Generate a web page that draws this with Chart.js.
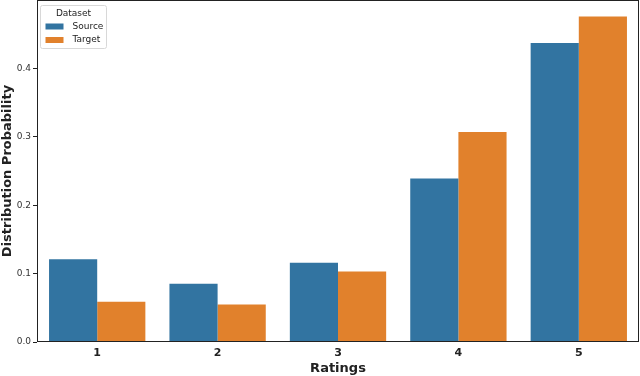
<!DOCTYPE html>
<html>
<head>
<meta charset="utf-8">
<script src="https://cdn.jsdelivr.net/npm/chart.js@4/dist/chart.umd.min.js"></script>
<style>
  html, body { margin: 0; padding: 0; background: #fff; }
  #wrap { width: 640px; height: 376px; }
</style>
</head>
<body>
<div id="wrap"><canvas id="c" width="640" height="376"></canvas></div>
<script>
// ─── Data ────────────────────────────────────────────────────────────
const ratings = ['1', '2', '3', '4', '5'];
const sourceProb = [0.121, 0.085, 0.116, 0.239, 0.437];
const targetProb = [0.059, 0.055, 0.103, 0.307, 0.476];
const yTicks = [0.0, 0.1, 0.2, 0.3, 0.4];

const BLUE = '#3274a1';
const ORANGE = '#e1812c';
const FONT = "'DejaVu Sans', sans-serif";

// frame + legend box drawn like matplotlib
const framePlugin = {
  id: 'frame',
  afterDraw(chart) {
    const { ctx, chartArea: a } = chart;
    ctx.save();
    ctx.strokeStyle = '#222';
    ctx.lineWidth = 1;
    ctx.strokeRect(a.left + 0.5, a.top + 0.5, a.right - a.left - 1, a.bottom - a.top - 1);

    // legend
    const x = a.left + 3.5, y = a.top + 5.5, w = 66, h = 43;
    ctx.fillStyle = 'rgba(255,255,255,0.8)';
    ctx.strokeStyle = '#d8d8d8';
    ctx.beginPath();
    ctx.roundRect(x, y, w, h, 2);
    ctx.fill(); ctx.stroke();
    ctx.fillStyle = '#222';
    ctx.font = '9px ' + FONT;
    ctx.textBaseline = 'middle';
    ctx.textAlign = 'center';
    ctx.fillText('Dataset', x + w / 2, y + 8);
    ctx.textAlign = 'left';
    chart.data.datasets.forEach((ds, i) => {
      const ry = y + 21 + i * 13.5;
      ctx.fillStyle = ds.backgroundColor;
      ctx.fillRect(x + 5, ry - 3, 18, 6);
      ctx.fillStyle = '#222';
      ctx.fillText(ds.label, x + 32, ry);
    });
    ctx.restore();
  }
};

new Chart(document.getElementById('c'), {
  type: 'bar',
  data: {
    labels: ratings,
    datasets: [
      { label: 'Source', data: sourceProb, backgroundColor: BLUE },
      { label: 'Target', data: targetProb, backgroundColor: ORANGE }
    ]
  },
  options: {
    responsive: false,
    animation: false,
    layout: { padding: { left: 0, right: 1, top: 0, bottom: 0 } },
    plugins: { legend: { display: false }, tooltip: { enabled: false } },
    datasets: { bar: { categoryPercentage: 0.8, barPercentage: 1.0 } },
    scales: {
      x: {
        grid: { display: false, drawTicks: true, tickLength: 4, color: '#222' },
        border: { display: false },
        ticks: { color: '#222', font: { family: FONT, size: 11, weight: 'bold' }, padding: 1 },
        title: { display: true, text: 'Ratings', color: '#222', font: { family: FONT, size: 13, weight: 'bold' }, padding: { top: 0, bottom: 0 } },
        afterFit: s => { s.height = 34; s.paddingLeft = 0; s.paddingRight = 0; }
      },
      y: {
        min: 0, max: 0.5,
        afterBuildTicks: s => { s.ticks = yTicks.map(v => ({ value: v })); },
        grid: { drawOnChartArea: false, drawTicks: true, tickLength: 4, color: '#222' },
        border: { display: false },
        ticks: { color: '#333', font: { family: FONT, size: 9 }, padding: 2, callback: v => v.toFixed(1) },
        title: { display: true, text: 'Distribution Probability', color: '#222', font: { family: FONT, size: 13, weight: 'bold' }, padding: { top: 0, bottom: 0 } },
        afterFit: s => { s.width = 37; s.paddingTop = 0; s.paddingBottom = 0; }
      }
    }
  },
  plugins: [framePlugin]
});
</script>
</body>
</html>
